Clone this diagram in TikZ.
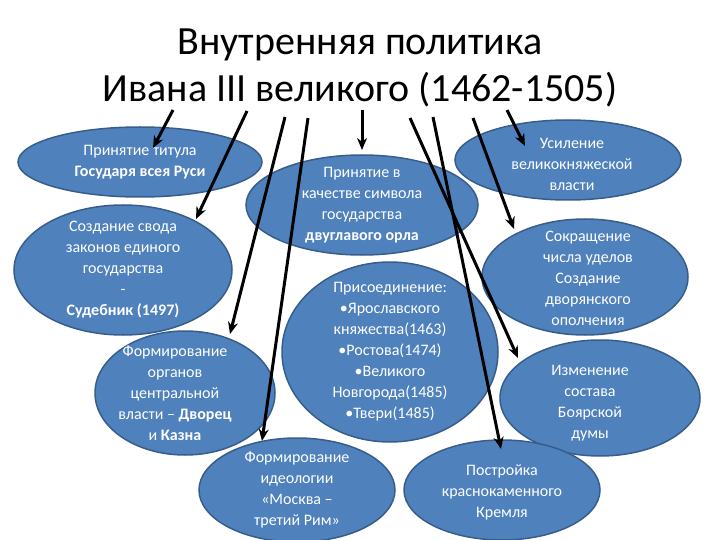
\documentclass[tikz,border=0pt]{standalone}
\usepackage{fontspec}
\setmainfont{Carlito}
\usetikzlibrary{arrows.meta}
\begin{document}
\begin{tikzpicture}[x=1pt,y=-1pt,
  ell/.style={draw=ellborder,line width=1.5pt,fill=ellfill},
  lbl/.style={text=white,font=\fontsize{16}{21}\selectfont,align=center},
  arr/.style={line width=3pt,-{Stealth[length=12pt,width=10pt]}}]
\definecolor{ellfill}{HTML}{4F81BD}
\definecolor{ellborder}{HTML}{385D8A}
\useasboundingbox (0,0) rectangle (720,540);
\node[font=\fontsize{40}{47}\selectfont,align=center] (t) at (360,68) {Внутренняя политика\\Ивана III великого (1462-1505)};
\draw[ell] (140,162) ellipse [x radius=122,y radius=35];
\node[lbl] (e1) at (140,162) {Принятие титула\\\textbf{Государя всея Руси}};
\draw[ell] (185,393) ellipse [x radius=90,y radius=62];
\node[lbl] (e3) at (175,393) {Формирование\\органов\\центральной\\власти -- \textbf{Дворец}\\и \textbf{Казна}};
\draw[ell] (123,270) ellipse [x radius=109,y radius=65];
\node[lbl] (e2) at (123,270) {Создание свода\\законов единого\\государства\\-\\\textbf{Судебник (1497)}};
\draw[ell] (362,205) ellipse [x radius=116,y radius=50];
\node[lbl] (e4) at (362,205) {Принятие в\\качестве символа\\государства\\\textbf{двуглавого орла}};
\draw[ell] (390,352) ellipse [x radius=108,y radius=90];
\node[lbl] (e5) at (390,352) {Присоединение:\\•Ярославского\\княжества(1463)\\•Ростова(1474)\\•Великого\\Новгорода(1485)\\•Твери(1485)};
\draw[ell] (297,490) ellipse [x radius=98,y radius=52];
\node[lbl] (e6) at (297,490) {Формирование\\идеологии\\«Москва --\\третий Рим»};
\draw[ell] (568,160) ellipse [x radius=113,y radius=40];
\node[lbl] (e7) at (572,164) {Усиление\\великокняжеской\\власти};
\draw[ell] (585,277) ellipse [x radius=103,y radius=58];
\node[lbl] (e8) at (588,278) {Сокращение\\числа уделов\\Создание\\дворянского\\ополчения};
\draw[ell] (600,398) ellipse [x radius=100,y radius=58];
\node[lbl] (e9) at (590,403) {Изменение\\состава\\Боярской\\думы};
\draw[ell] (502,490) ellipse [x radius=98,y radius=50];
\node[lbl] (e10) at (502,492) {Постройка\\краснокаменного\\Кремля};
\coordinate (s1) at (173,110); \coordinate (d1) at (153,148);
\coordinate (s2) at (247,111); \coordinate (d2) at (196,219);
\coordinate (s3) at (285,117); \coordinate (d3) at (230,334);
\coordinate (s4) at (308,118); \coordinate (d4) at (262,441);
\coordinate (s5) at (362,110); \coordinate (d5) at (362,150);
\coordinate (s6) at (410,118); \coordinate (d6) at (518,358);
\coordinate (s7) at (433,117); \coordinate (d7) at (501,449);
\coordinate (s8) at (473,118); \coordinate (d8) at (514,229);
\coordinate (s9) at (507,110); \coordinate (d9) at (525,146);
\foreach \i in {1,...,9} \draw[arr] (s\i) -- (d\i);
\end{tikzpicture}
\end{document}
